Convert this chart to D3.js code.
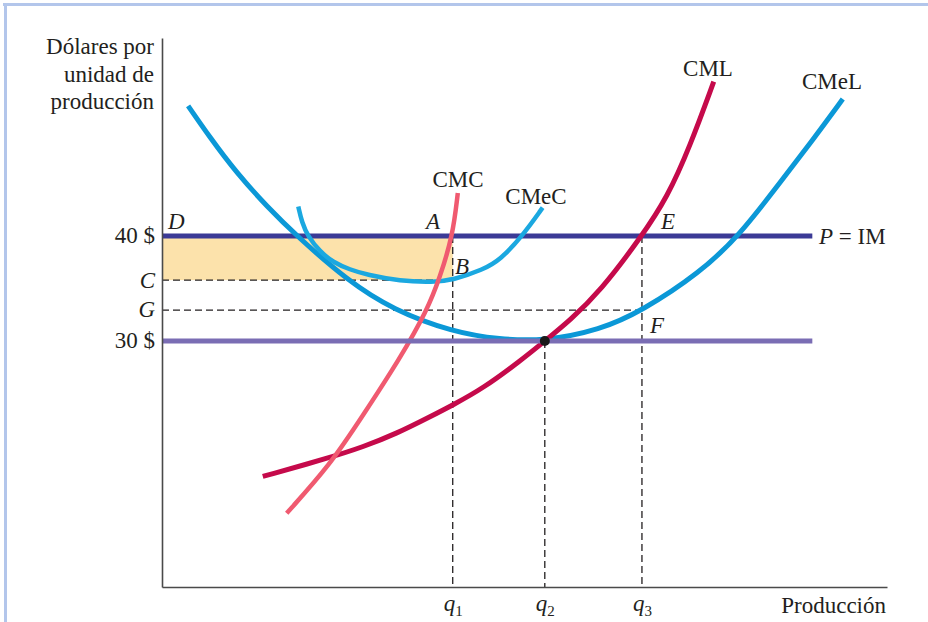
<!DOCTYPE html>
<html><head><meta charset="utf-8">
<script src="https://cdn.jsdelivr.net/npm/d3@7"></script>
<style>
body{margin:0;background:#fff}
text{font-family:"Liberation Serif","Times New Roman",serif;fill:#231f20}
</style>
</head><body>
<svg id="c" width="928" height="622"></svg>
<script>
// ---- data (x: output units 0-100, y: dollars per unit) ----
const yTickValues = [40, 35.8, 32.95, 30];
const yTickLabels = ["40 $", "C", "G", "30 $"];
const xTickValues = [40.1, 52.8, 66.2];
const xTickLabels = ["1", "2", "3"];

const priceIM = 40;      // P = IM
const priceMin = 30;     // min CMeL
const costC = 35.8;
const costG = 32.95;
const q1 = 40.1, q2 = 52.8, q3 = 66.2;
const lineEndX = 89.7;

const cmelX = [3.6, 6.6, 10.3, 14.5, 18.6, 25.5, 31.9, 40.1, 46.6, 52.8, 60.4, 66.2, 74.2, 79.7, 85.2, 89.7, 93.9];
const cmelY = [52.4, 49.4, 46.0, 42.8, 40.0, 35.8, 32.95, 30.86, 30.14, 30.0, 31.05, 32.86, 36.5, 40.1, 45.05, 49.1, 53.05];

const cmecX = [18.8, 19.3, 20.1, 21.8, 23.6, 25.9, 28.3, 32.8, 37.4, 40.1, 44.3, 46.6, 49.7, 52.5];
const cmecY = [42.8, 41.3, 40.0, 38.5, 37.5, 36.8, 36.3, 35.7, 35.6, 35.8, 36.8, 37.7, 40.0, 42.7];

const cmcX = [17.2, 23.2, 27.7, 32.8, 36.6, 38.3, 40.1, 40.8];
const cmcY = [13.6, 18.2, 22.9, 28.3, 32.95, 36.0, 40.0, 44.1];

const cmlX = [13.9, 23.2, 27.7, 32.4, 37.0, 40.1, 44.3, 49.4, 52.8, 56.3, 60.4, 66.2, 69.7, 72.8, 76.1];
const cmlY = [17.1, 18.9, 19.9, 21.2, 22.8, 23.9, 25.5, 28.1, 30.0, 32.0, 34.7, 40.0, 43.7, 48.5, 54.7];

// ---- drawing ----
const svg = d3.select("#c");
const x = d3.scaleLinear().domain([0, 100]).range([162, 887]);
const y = d3.scaleLinear().domain([6.57, 58.86]).range([587, 38]);
const FS = 23;

// frame
svg.append("line").attr("x1", 3).attr("x2", 928).attr("y1", 4.5).attr("y2", 4.5)
  .attr("stroke", "#b3c6eb").attr("stroke-width", 3);
svg.append("line").attr("x1", 5.5).attr("x2", 5.5).attr("y1", 3).attr("y2", 622)
  .attr("stroke", "#b3c6eb").attr("stroke-width", 3);

// shaded profit rectangle
svg.append("rect")
  .attr("x", x(0)).attr("y", y(priceIM))
  .attr("width", x(q1) - x(0)).attr("height", y(costC) - y(priceIM))
  .attr("fill", "#fce2ab");

// dashed guides
const dash = svg.append("g").attr("stroke", "#231f20").attr("stroke-width", 1.3)
  .attr("stroke-dasharray", "7,4").attr("fill", "none");
dash.append("line").attr("x1", x(0)).attr("x2", x(q1)).attr("y1", y(costC)).attr("y2", y(costC));
dash.append("line").attr("x1", x(0)).attr("x2", x(q3)).attr("y1", y(costG)).attr("y2", y(costG));
dash.append("line").attr("x1", x(q1)).attr("x2", x(q1)).attr("y1", y(priceIM)).attr("y2", y(6.57));
dash.append("line").attr("x1", x(q2)).attr("x2", x(q2)).attr("y1", y(priceMin)).attr("y2", y(6.57));
dash.append("line").attr("x1", x(q3)).attr("x2", x(q3)).attr("y1", y(priceIM)).attr("y2", y(6.57));

// P = IM line
svg.append("line").attr("x1", x(0)).attr("x2", x(lineEndX))
  .attr("y1", y(priceIM)).attr("y2", y(priceIM))
  .attr("stroke", "#3b3a96").attr("stroke-width", 5);

// curves
const line = d3.line().x(d => x(d[0])).y(d => y(d[1])).curve(d3.curveBasis);
function curve(xs, ys, color, w) {
  svg.append("path").datum(xs.map((v, i) => [v, ys[i]]))
    .attr("d", line).attr("fill", "none").attr("stroke", color)
    .attr("stroke-width", w).attr("stroke-linecap", "butt");
}
curve(cmelX, cmelY, "#0b98d7", 5);
curve(cmecX, cmecY, "#1ba8e0", 4.5);
curve(cmlX, cmlY, "#c50a4b", 5);
curve(cmcX, cmcY, "#f05a70", 4.5);

// min price line (30 $)
svg.append("line").attr("x1", x(0)).attr("x2", x(lineEndX))
  .attr("y1", y(priceMin)).attr("y2", y(priceMin))
  .attr("stroke", "#7a6db4").attr("stroke-width", 5);

// equilibrium point
svg.append("circle").attr("cx", x(q2)).attr("cy", y(priceMin)).attr("r", 5).attr("fill", "#1a1a1a");

// axes
const yAxis = d3.axisLeft(y).tickValues(yTickValues).tickSize(0).tickSizeOuter(0).tickPadding(7)
  .tickFormat((d, i) => yTickLabels[i]);
const gy = svg.append("g").attr("transform", `translate(${x(0)},0)`).call(yAxis);
gy.selectAll(".tick text").attr("font-size", FS).attr("font-family", "Liberation Serif, serif")
  .attr("fill", "#231f20").attr("dy", "0.3em")
  .attr("font-style", (d, i) => (yTickLabels[i].length === 1 ? "italic" : "normal"));

const xAxis = d3.axisBottom(x).tickValues(xTickValues).tickSize(0).tickSizeOuter(0).tickPadding(8)
  .tickFormat(() => "");
const gx = svg.append("g").attr("transform", `translate(0,${y(6.57)})`).call(xAxis);
gx.selectAll(".tick text").each(function (d, i) {
  const t = d3.select(this).attr("font-size", FS).attr("font-family", "Liberation Serif, serif").attr("fill", "#231f20");
  t.append("tspan").attr("font-style", "italic").text("q");
  t.append("tspan").attr("font-size", 15).attr("dy", 5).text(xTickLabels[i]);
});
[gx, gy].forEach(g => g.select(".domain").attr("stroke", "#4a4a4a").attr("stroke-width", 1.6));

// axis titles
const yt = svg.append("text").attr("text-anchor", "end").attr("font-size", FS);
["Dólares por", "unidad de", "producción"].forEach((s, i) =>
  yt.append("tspan").attr("x", 154).attr("y", 54 + i * 27.5).text(s));
svg.append("text").attr("x", 886).attr("y", 613).attr("text-anchor", "end").attr("font-size", FS).text("Producción");

// labels
function lab(txt, px, py, italic, anchor) {
  svg.append("text").attr("x", px).attr("y", py).attr("font-size", FS)
    .attr("font-style", italic ? "italic" : "normal")
    .attr("text-anchor", anchor || "start").text(txt);
}
lab("D", 168, 229, true);
lab("A", 426, 229, true);
lab("B", 455, 274, true);
lab("E", 661, 229, true);
lab("F", 650, 333, true);
lab("CMC", 458, 187, false, "middle");
lab("CMeC", 536, 204, false, "middle");
lab("CML", 708, 76, false, "middle");
lab("CMeL", 832, 89, false, "middle");
const pim = svg.append("text").attr("x", 819).attr("y", 244).attr("font-size", FS);
pim.append("tspan").attr("font-style", "italic").text("P");
pim.append("tspan").text(" = IM");
</script>
</body></html>
